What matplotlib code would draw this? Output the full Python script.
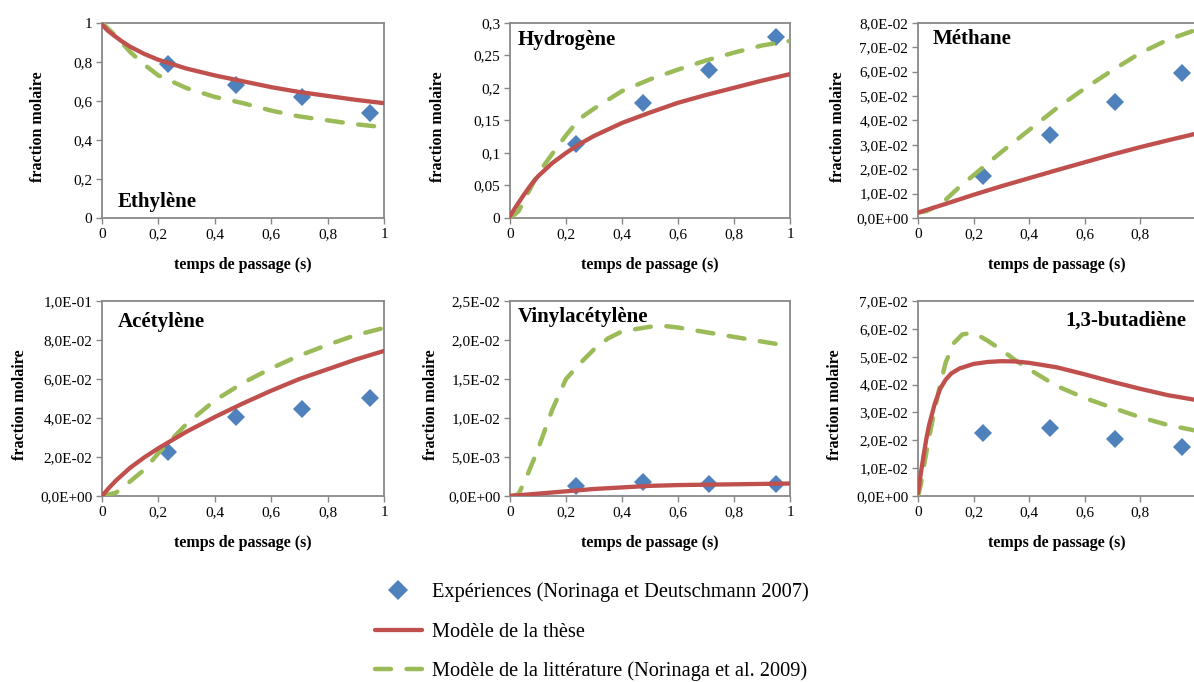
import matplotlib
matplotlib.use('Agg')
import matplotlib.pyplot as plt
from matplotlib.ticker import FuncFormatter, MultipleLocator, FixedLocator

plt.rcParams['font.family'] = ['Liberation Serif', 'DejaVu Serif']

# experimental residence times (s)
t_exp = [0.235, 0.475, 0.71, 0.95]

# Ethylene
eth_exp = [0.787, 0.681, 0.617, 0.540]
eth_these_t = [0, 0.02, 0.04, 0.07, 0.1, 0.15, 0.2, 0.3, 0.4, 0.5, 0.6, 0.7, 0.8, 0.9, 1.0]
eth_these = [0.99, 0.96, 0.937, 0.905, 0.877, 0.84, 0.81, 0.765, 0.73, 0.70, 0.67, 0.645, 0.625, 0.605, 0.588]
eth_lit_t = [0, 0.05, 0.1, 0.15, 0.2, 0.3, 0.4, 0.5, 0.6, 0.7, 0.8, 0.9, 1.0]
eth_lit = [1.0, 0.93, 0.85, 0.785, 0.73, 0.665, 0.62, 0.588, 0.55, 0.52, 0.50, 0.48, 0.465]

# Hydrogene
h2_exp = [0.114, 0.176, 0.228, 0.278]
h2_these_t = [0, 0.025, 0.05, 0.075, 0.1, 0.15, 0.2, 0.25, 0.3, 0.4, 0.5, 0.6, 0.7, 0.8, 0.9, 1.0]
h2_these = [0.003, 0.02, 0.036, 0.051, 0.064, 0.084, 0.100, 0.114, 0.126, 0.146, 0.162, 0.177, 0.189, 0.200, 0.211, 0.221]
h2_lit_t = [0, 0.03, 0.06, 0.1, 0.15, 0.2, 0.25, 0.3, 0.4, 0.5, 0.6, 0.7, 0.8, 0.9, 1.0]
h2_lit = [0, 0.01, 0.035, 0.068, 0.098, 0.127, 0.153, 0.168, 0.195, 0.213, 0.228, 0.242, 0.254, 0.265, 0.272]

# Methane
ch4_exp = [0.0171, 0.0338, 0.0475, 0.0595]
ch4_these_t = [0, 0.1, 0.2, 0.3, 0.4, 0.5, 0.6, 0.7, 0.8, 0.9, 1.0]
ch4_these = [0.0022, 0.0058, 0.0095, 0.0130, 0.0163, 0.0196, 0.0228, 0.0260, 0.0290, 0.0318, 0.0345]
ch4_lit_t = [0, 0.03, 0.06, 0.1, 0.15, 0.2, 0.3, 0.4, 0.5, 0.6, 0.7, 0.8, 0.9, 1.0]
ch4_lit = [0.0022, 0.0028, 0.0045, 0.0075, 0.0128, 0.0175, 0.0270, 0.036, 0.045, 0.053, 0.0605, 0.0675, 0.073, 0.077]

# Acetylene
c2h2_exp = [0.0227, 0.0406, 0.0444, 0.0503]
c2h2_these_t = [0, 0.025, 0.05, 0.1, 0.15, 0.2, 0.3, 0.4, 0.5, 0.6, 0.7, 0.8, 0.9, 1.0]
c2h2_these = [0, 0.0042, 0.0080, 0.0145, 0.0198, 0.0245, 0.0330, 0.0405, 0.0475, 0.0540, 0.0600, 0.0650, 0.0700, 0.0744]
c2h2_lit_t = [0, 0.05, 0.1, 0.15, 0.2, 0.25, 0.3, 0.4, 0.5, 0.6, 0.7, 0.8, 0.9, 1.0]
c2h2_lit = [0, 0.0017, 0.0075, 0.0135, 0.022, 0.0295, 0.037, 0.049, 0.058, 0.0655, 0.072, 0.0775, 0.0825, 0.0862]

# Vinylacetylene
va_exp = [0.00132, 0.0018, 0.0016, 0.0016]
va_these_t = [0, 0.1, 0.2, 0.3, 0.4, 0.5, 0.6, 0.8, 1.0]
va_these = [0, 0.0003, 0.0006, 0.0009, 0.0011, 0.0013, 0.0014, 0.0015, 0.0016]
va_lit_t = [0, 0.03, 0.06, 0.1, 0.15, 0.2, 0.25, 0.3, 0.35, 0.4, 0.5, 0.55, 0.6, 0.7, 0.8, 0.9, 1.0]
va_lit = [0, 0.0002, 0.0025, 0.006, 0.011, 0.0150, 0.0170, 0.0188, 0.0202, 0.0211, 0.0217, 0.0218, 0.0216, 0.021, 0.0204, 0.0198, 0.0192]

# 1,3-butadiene
bd_exp = [0.0225, 0.0245, 0.0203, 0.0177]
bd_these_t = [0, 0.01, 0.02, 0.03, 0.04, 0.06, 0.08, 0.1, 0.12, 0.15, 0.2, 0.25, 0.3, 0.35, 0.4, 0.5, 0.6, 0.7, 0.8, 0.9, 1.0]
bd_these = [0.001, 0.008, 0.0145, 0.0205, 0.0255, 0.033, 0.0385, 0.0418, 0.0440, 0.0458, 0.0474, 0.0481, 0.0484, 0.0483, 0.0478, 0.0462, 0.0437, 0.041, 0.0385, 0.0362, 0.0345]
bd_lit_t = [0, 0.01, 0.02, 0.04, 0.06, 0.08, 0.1, 0.13, 0.16, 0.19, 0.22, 0.25, 0.3, 0.35, 0.4, 0.5, 0.6, 0.7, 0.8, 0.9, 1.0]
bd_lit = [0, 0.004, 0.010, 0.021, 0.031, 0.040, 0.048, 0.055, 0.058, 0.0585, 0.0575, 0.0558, 0.0525, 0.0488, 0.0455, 0.0395, 0.0352, 0.0317, 0.0283, 0.0255, 0.0235]

panels = [
    ('Ethylène', eth_exp, eth_these_t, eth_these, eth_lit_t, eth_lit, 1.0, 0.2, 'dec', (0.057, 0.082)),
    ('Hydrogène', h2_exp, h2_these_t, h2_these, h2_lit_t, h2_lit, 0.3, 0.05, 'dec', (0.029, 0.91)),
    ('Méthane', ch4_exp, ch4_these_t, ch4_these, ch4_lit_t, ch4_lit, 0.08, 0.01, 'sci', (0.054, 0.917)),
    ('Acétylène', c2h2_exp, c2h2_these_t, c2h2_these, c2h2_lit_t, c2h2_lit, 0.1, 0.02, 'sci', (0.057, 0.894)),
    ('Vinylacétylène', va_exp, va_these_t, va_these, va_lit_t, va_lit, 0.025, 0.005, 'sci', (0.029, 0.919)),
    ('1,3-butadiène', bd_exp, bd_these_t, bd_these, bd_lit_t, bd_lit, 0.07, 0.01, 'sci', (0.53, 0.899)),
]

W, H = 1194, 682
col_left = [102, 510, 918]
col_width = [282, 280, 277.5]
row_top = [22.7, 301]
row_height = [195.3, 195]
ylab_x = [-0.199, -0.229, -0.26, -0.261, -0.255, -0.27]

red = '#C0504D'
green = '#9BBB59'
blue = '#4F81BD'
grey = '#888888'


def dec_fmt(v, pos):
    return '{:g}'.format(round(v, 4)).replace('.', ',')


def sci_fmt(v, pos):
    return '{:.1E}'.format(v).replace('.', ',')


fig = plt.figure(figsize=(W / 100, H / 100), dpi=100)

handles = None
for i, (name, yexp, tt, yt, tl, yl, ymax, ystep, fmt, (tx, ty)) in enumerate(panels):
    r, c = divmod(i, 3)
    left = col_left[c] / W
    bottom = (H - row_top[r] - row_height[r]) / H
    ax = fig.add_axes([left, bottom, col_width[c] / W, row_height[r] / H])

    l2, = ax.plot(tl, yl, color=green, lw=3.2, dashes=(3.6, 3.5), dash_capstyle='round',
                  label='Modèle de la littérature (Norinaga et al. 2009)', zorder=3)
    l1, = ax.plot(tt, yt, color=red, lw=3.1, solid_capstyle='round',
                  label='Modèle de la thèse', zorder=4)
    l0, = ax.plot(t_exp, yexp, 'D', color=blue, ms=9.5, markeredgewidth=0,
                  label='Expériences (Norinaga et Deutschmann 2007)', zorder=2)
    if handles is None:
        handles = [l0, l1, l2]

    ax.set_xlim(0, 1)
    ax.set_ylim(0, ymax)
    if c == 2:
        # right edge of the figure cuts these panels, last tick is off-canvas
        ax.xaxis.set_major_locator(FixedLocator([0, 0.2, 0.4, 0.6, 0.8]))
    else:
        ax.xaxis.set_major_locator(MultipleLocator(0.2))
    ax.yaxis.set_major_locator(MultipleLocator(ystep))
    ax.xaxis.set_major_formatter(FuncFormatter(dec_fmt))
    ax.yaxis.set_major_formatter(FuncFormatter(dec_fmt if fmt == 'dec' else sci_fmt))

    for s in ax.spines.values():
        s.set_color(grey)
        s.set_linewidth(1.3)
    ax.tick_params(direction='out', length=4, width=1, color=grey, labelsize=11, pad=3)

    ax.set_xlabel('temps de passage (s)', fontsize=11.5, fontweight='bold')
    ax.set_ylabel('fraction molaire', fontsize=11.5, fontweight='bold')
    ax.xaxis.set_label_coords(0.5, -0.2)
    ax.yaxis.set_label_coords(ylab_x[i], 0.47)

    ax.text(tx, ty, name, transform=ax.transAxes, ha='left', va='center',
            fontsize=15, fontweight='bold')

fig.legend(handles=handles, loc='center left', bbox_to_anchor=(375 / W, 0.0733),
           frameon=False, fontsize=14.7, numpoints=1, handlelength=2.3, markerscale=1.05,
           handletextpad=0.5, labelspacing=0.98, borderpad=0, borderaxespad=0)

fig.savefig('out.png', dpi=100, facecolor='white')
